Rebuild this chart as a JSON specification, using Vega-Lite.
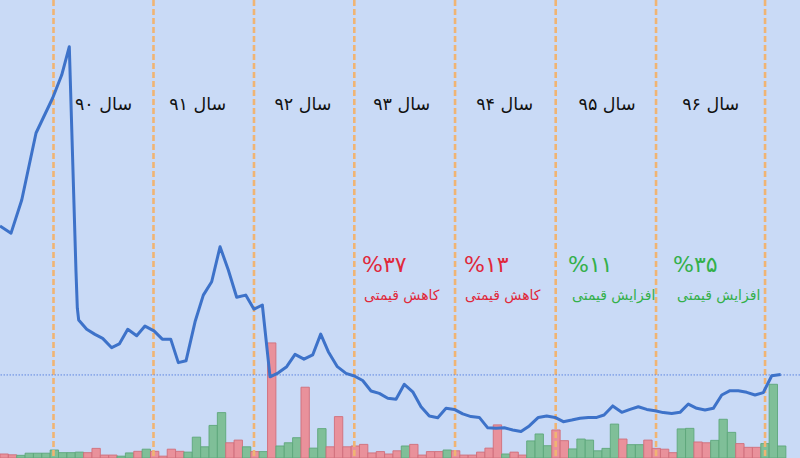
{
  "$schema": "https://vega.github.io/schema/vega-lite/v6.json",
  "width": 800,
  "height": 458,
  "autosize": {"type": "none"},
  "padding": 0,
  "background": "#c9daf6",
  "config": {
    "view": {"stroke": null},
    "axis": {"labels": false, "ticks": false, "domain": false, "title": null, "gridColor": "#e6eefb", "gridOpacity": 0.75, "gridWidth": 1}
  },
  "datasets": {
    "price": [
      {"m":0,"p":8.69},{"m":1.32,"p":8.42},{"m":2.60,"p":9.66},{"m":4.31,"p":12.17},{"m":6.30,"p":13.48},
      {"m":7.38,"p":14.34},{"m":8.29,"p":15.40},{"m":9.09,"p":6.98},{"m":9.25,"p":5.61},{"m":9.41,"p":5.17},
      {"m":10.37,"p":4.82},{"m":11.36,"p":4.63},{"m":12.28,"p":4.48},{"m":13.36,"p":4.13},{"m":14.27,"p":4.27},
      {"m":15.28,"p":4.82},{"m":16.35,"p":4.58},{"m":17.34,"p":4.94},{"m":18.42,"p":4.76},{"m":19.41,"p":4.45},
      {"m":20.42,"p":4.45},{"m":21.33,"p":3.57},{"m":22.25,"p":3.64},{"m":23.33,"p":5.10},{"m":24.32,"p":6.10},
      {"m":25.32,"p":6.60},{"m":26.32,"p":7.91},{"m":27.31,"p":7.04},{"m":28.31,"p":6.02},{"m":29.39,"p":6.10},
      {"m":30.38,"p":5.57},{"m":31.38,"p":5.73},{"m":32.30,"p":3.04},{"m":33.29,"p":3.19},{"m":34.29,"p":3.42},
      {"m":35.29,"p":3.88},{"m":36.36,"p":3.70},{"m":37.40,"p":3.86},{"m":38.36,"p":4.64},{"m":39.27,"p":3.98},
      {"m":40.35,"p":3.42},{"m":41.39,"p":3.17},{"m":42.38,"p":3.07},{"m":43.38,"p":2.90},{"m":44.38,"p":2.51},
      {"m":45.37,"p":2.42},{"m":46.38,"p":2.24},{"m":47.37,"p":2.20},{"m":48.36,"p":2.76},{"m":49.37,"p":2.48},
      {"m":50.36,"p":1.92},{"m":51.35,"p":1.57},{"m":52.36,"p":1.51},{"m":53.35,"p":1.86},{"m":54.34,"p":1.82},
      {"m":55.35,"p":1.65},{"m":56.34,"p":1.55},{"m":57.33,"p":1.52},{"m":58.34,"p":1.13},{"m":59.33,"p":1.11},
      {"m":60.32,"p":1.13},{"m":61.33,"p":1.05},{"m":62.32,"p":0.99},{"m":63.31,"p":1.20},{"m":64.39,"p":1.52},
      {"m":65.39,"p":1.57},{"m":66.39,"p":1.52},{"m":67.38,"p":1.36},{"m":68.39,"p":1.42},{"m":69.38,"p":1.49},
      {"m":70.37,"p":1.52},{"m":71.38,"p":1.52},{"m":72.25,"p":1.61},{"m":73.29,"p":1.95},{"m":74.37,"p":1.71},
      {"m":75.36,"p":1.82},{"m":76.35,"p":1.92},{"m":77.36,"p":1.82},{"m":78.35,"p":1.77},{"m":79.34,"p":1.70},
      {"m":80.35,"p":1.67},{"m":81.34,"p":1.71},{"m":82.33,"p":2.02},{"m":83.34,"p":1.86},{"m":84.33,"p":1.80},
      {"m":85.32,"p":1.86},{"m":86.33,"p":2.36},{"m":87.32,"p":2.52},{"m":88.31,"p":2.52},{"m":89.32,"p":2.46},
      {"m":90.31,"p":2.36},{"m":91.30,"p":2.45},{"m":92.31,"p":3.08},{"m":93.38,"p":3.13}
    ],
    "vol": [
      {"m":0.5,"v":0.15,"d":"d"},{"m":1.5,"v":0.12,"d":"d"},{"m":2.5,"v":0.10,"d":"u"},{"m":3.5,"v":0.18,"d":"u"},
      {"m":4.5,"v":0.18,"d":"u"},{"m":5.5,"v":0.18,"d":"u"},{"m":6.5,"v":0.30,"d":"u"},{"m":7.5,"v":0.20,"d":"u"},
      {"m":8.5,"v":0.20,"d":"u"},{"m":9.5,"v":0.22,"d":"u"},{"m":10.5,"v":0.20,"d":"d"},{"m":11.5,"v":0.36,"d":"d"},
      {"m":12.5,"v":0.11,"d":"d"},{"m":13.5,"v":0.11,"d":"d"},{"m":14.5,"v":0.07,"d":"u"},{"m":15.5,"v":0.19,"d":"u"},
      {"m":16.5,"v":0.25,"d":"d"},{"m":17.5,"v":0.33,"d":"u"},{"m":18.5,"v":0.25,"d":"d"},{"m":19.5,"v":0.07,"d":"d"},
      {"m":20.5,"v":0.33,"d":"d"},{"m":21.5,"v":0.25,"d":"d"},{"m":22.5,"v":0.22,"d":"u"},{"m":23.5,"v":0.78,"d":"u"},
      {"m":24.5,"v":0.42,"d":"u"},{"m":25.5,"v":1.22,"d":"u"},{"m":26.5,"v":1.70,"d":"u"},{"m":27.5,"v":0.57,"d":"d"},
      {"m":28.5,"v":0.67,"d":"d"},{"m":29.5,"v":0.42,"d":"u"},{"m":30.5,"v":0.24,"d":"d"},{"m":31.5,"v":0.24,"d":"u"},
      {"m":32.5,"v":4.31,"d":"d"},{"m":33.5,"v":0.45,"d":"u"},{"m":34.5,"v":0.57,"d":"u"},{"m":35.5,"v":0.76,"d":"u"},
      {"m":36.5,"v":2.65,"d":"d"},{"m":37.5,"v":0.37,"d":"u"},{"m":38.5,"v":1.10,"d":"u"},{"m":39.5,"v":0.42,"d":"d"},
      {"m":40.5,"v":1.55,"d":"d"},{"m":41.5,"v":0.42,"d":"d"},{"m":42.5,"v":0.45,"d":"d"},{"m":43.5,"v":0.51,"d":"d"},
      {"m":44.5,"v":0.19,"d":"d"},{"m":45.5,"v":0.24,"d":"d"},{"m":46.5,"v":0.15,"d":"d"},{"m":47.5,"v":0.27,"d":"d"},
      {"m":48.5,"v":0.45,"d":"u"},{"m":49.5,"v":0.51,"d":"d"},{"m":50.5,"v":0.11,"d":"d"},{"m":51.5,"v":0.24,"d":"d"},
      {"m":52.5,"v":0.24,"d":"d"},{"m":53.5,"v":0.30,"d":"u"},{"m":54.5,"v":0.27,"d":"d"},{"m":55.5,"v":0.11,"d":"d"},
      {"m":56.5,"v":0.11,"d":"d"},{"m":57.5,"v":0.22,"d":"d"},{"m":58.5,"v":0.37,"d":"d"},{"m":59.5,"v":1.24,"d":"d"},
      {"m":60.5,"v":0.15,"d":"u"},{"m":61.5,"v":0.22,"d":"d"},{"m":62.5,"v":0.11,"d":"d"},{"m":63.5,"v":0.64,"d":"u"},
      {"m":64.5,"v":0.90,"d":"u"},{"m":65.5,"v":0.46,"d":"u"},{"m":66.5,"v":1.05,"d":"d"},{"m":67.5,"v":0.65,"d":"d"},
      {"m":68.5,"v":0.34,"d":"u"},{"m":69.5,"v":0.71,"d":"u"},{"m":70.5,"v":0.67,"d":"u"},{"m":71.5,"v":0.27,"d":"u"},
      {"m":72.5,"v":0.36,"d":"u"},{"m":73.5,"v":1.27,"d":"u"},{"m":74.5,"v":0.71,"d":"d"},{"m":75.5,"v":0.50,"d":"u"},
      {"m":76.5,"v":0.50,"d":"u"},{"m":77.5,"v":0.67,"d":"d"},{"m":78.5,"v":0.36,"d":"d"},{"m":79.5,"v":0.33,"d":"d"},
      {"m":80.5,"v":0.20,"d":"d"},{"m":81.5,"v":1.09,"d":"u"},{"m":82.5,"v":1.11,"d":"u"},{"m":83.5,"v":0.60,"d":"d"},
      {"m":84.5,"v":0.57,"d":"d"},{"m":85.5,"v":0.66,"d":"u"},{"m":86.5,"v":1.45,"d":"u"},{"m":87.5,"v":0.96,"d":"u"},
      {"m":88.5,"v":0.54,"d":"d"},{"m":89.5,"v":0.40,"d":"d"},{"m":90.5,"v":0.40,"d":"d"},{"m":91.5,"v":0.54,"d":"u"},
      {"m":92.5,"v":2.76,"d":"u"},{"m":93.5,"v":0.45,"d":"u"}
    ],
    "bounds": [{"m":6.40},{"m":18.36},{"m":30.38},{"m":42.38},{"m":54.43},{"m":66.47},{"m":78.47},{"m":91.51}],
    "years": [
      {"m":12.38,"p":13.22,"t":"سال ۹۰"},{"m":23.65,"p":13.22,"t":"سال ۹۱"},{"m":36.24,"p":13.22,"t":"سال ۹۲"},
      {"m":48.05,"p":13.22,"t":"سال ۹۳"},{"m":60.37,"p":13.22,"t":"سال ۹۴"},{"m":72.61,"p":13.22,"t":"سال ۹۵"},
      {"m":85.01,"p":13.22,"t":"سال ۹۶"}
    ],
    "pct": [
      {"m":43.30,"p":7.23,"t":"%۳۷","d":"d"},{"m":55.50,"p":7.23,"t":"%۱۳","d":"d"},
      {"m":67.94,"p":7.23,"t":"%۱۱","d":"u"},{"m":80.50,"p":7.23,"t":"%۳۵","d":"u"}
    ],
    "lbl": [
      {"m":43.54,"p":6.07,"t":"کاهش قیمتی","d":"d"},{"m":55.62,"p":6.07,"t":"کاهش قیمتی","d":"d"},
      {"m":68.42,"p":6.07,"t":"افزایش قیمتی","d":"u"},{"m":80.98,"p":6.07,"t":"افزایش قیمتی","d":"u"}
    ],
    "ref": [{"p":3.11}]
  },
  "layer": [
    {
      "data": {"name": "vol"},
      "mark": {"type": "bar", "size": 8.36, "strokeWidth": 0.9},
      "encoding": {
        "x": {"field": "m", "type": "quantitative", "title": null,
              "scale": {"domain": [0, 95.69], "nice": false, "zero": false, "padding": 0},
              "axis": {"grid": true, "values": [3.59, 15.55, 27.51, 39.47, 51.44, 63.4, 75.36, 87.32]}},
        "y": {"field": "v", "type": "quantitative", "title": null,
              "scale": {"domain": [0, 17.15], "nice": false, "padding": 0},
              "axis": {"grid": true, "values": [1,2,3,4,5,6,7,8,9,10,11,12,13,14,15,16,17]}},
        "fill": {"field": "d", "type": "nominal", "legend": null,
                 "scale": {"domain": ["u","d"], "range": ["#7fbf98", "#e9919b"]}},
        "stroke": {"field": "d", "type": "nominal", "legend": null,
                   "scale": {"domain": ["u","d"], "range": ["#5ea77a", "#d06e7b"]}}
      }
    },
    {
      "data": {"name": "bounds"},
      "mark": {"type": "rule", "color": "#f0b473", "strokeWidth": 2.6, "strokeDash": [6, 3]},
      "encoding": {
        "x": {"field": "m", "type": "quantitative", "axis": null}
      }
    },
    {
      "data": {"name": "ref"},
      "mark": {"type": "rule", "color": "#5f86e0", "strokeWidth": 1, "strokeDash": [1.5, 1.5]},
      "encoding": {
        "y": {"field": "p", "type": "quantitative", "axis": null}
      }
    },
    {
      "data": {"name": "price"},
      "mark": {"type": "line", "color": "#3d72c9", "strokeWidth": 3, "strokeJoin": "round"},
      "encoding": {
        "x": {"field": "m", "type": "quantitative", "axis": null},
        "y": {"field": "p", "type": "quantitative", "axis": null}
      }
    },
    {
      "data": {"name": "years"},
      "mark": {"type": "text", "font": "DejaVu Sans", "fontSize": 17.5, "color": "#111111", "align": "center", "baseline": "middle"},
      "encoding": {
        "x": {"field": "m", "type": "quantitative", "axis": null},
        "y": {"field": "p", "type": "quantitative", "axis": null},
        "text": {"field": "t"}
      }
    },
    {
      "data": {"name": "pct"},
      "mark": {"type": "text", "font": "DejaVu Sans", "fontSize": 22, "align": "left", "baseline": "middle"},
      "encoding": {
        "x": {"field": "m", "type": "quantitative", "axis": null},
        "y": {"field": "p", "type": "quantitative", "axis": null},
        "text": {"field": "t"},
        "color": {"field": "d", "type": "nominal", "legend": null,
                  "scale": {"domain": ["u","d"], "range": ["#33b04a", "#e0283a"]}}
      }
    },
    {
      "data": {"name": "lbl"},
      "mark": {"type": "text", "font": "DejaVu Sans", "fontSize": 14, "align": "left", "baseline": "middle"},
      "encoding": {
        "x": {"field": "m", "type": "quantitative", "axis": null},
        "y": {"field": "p", "type": "quantitative", "axis": null},
        "text": {"field": "t"},
        "color": {"field": "d", "type": "nominal", "legend": null,
                  "scale": {"domain": ["u","d"], "range": ["#33b04a", "#e0283a"]}}
      }
    }
  ]
}
